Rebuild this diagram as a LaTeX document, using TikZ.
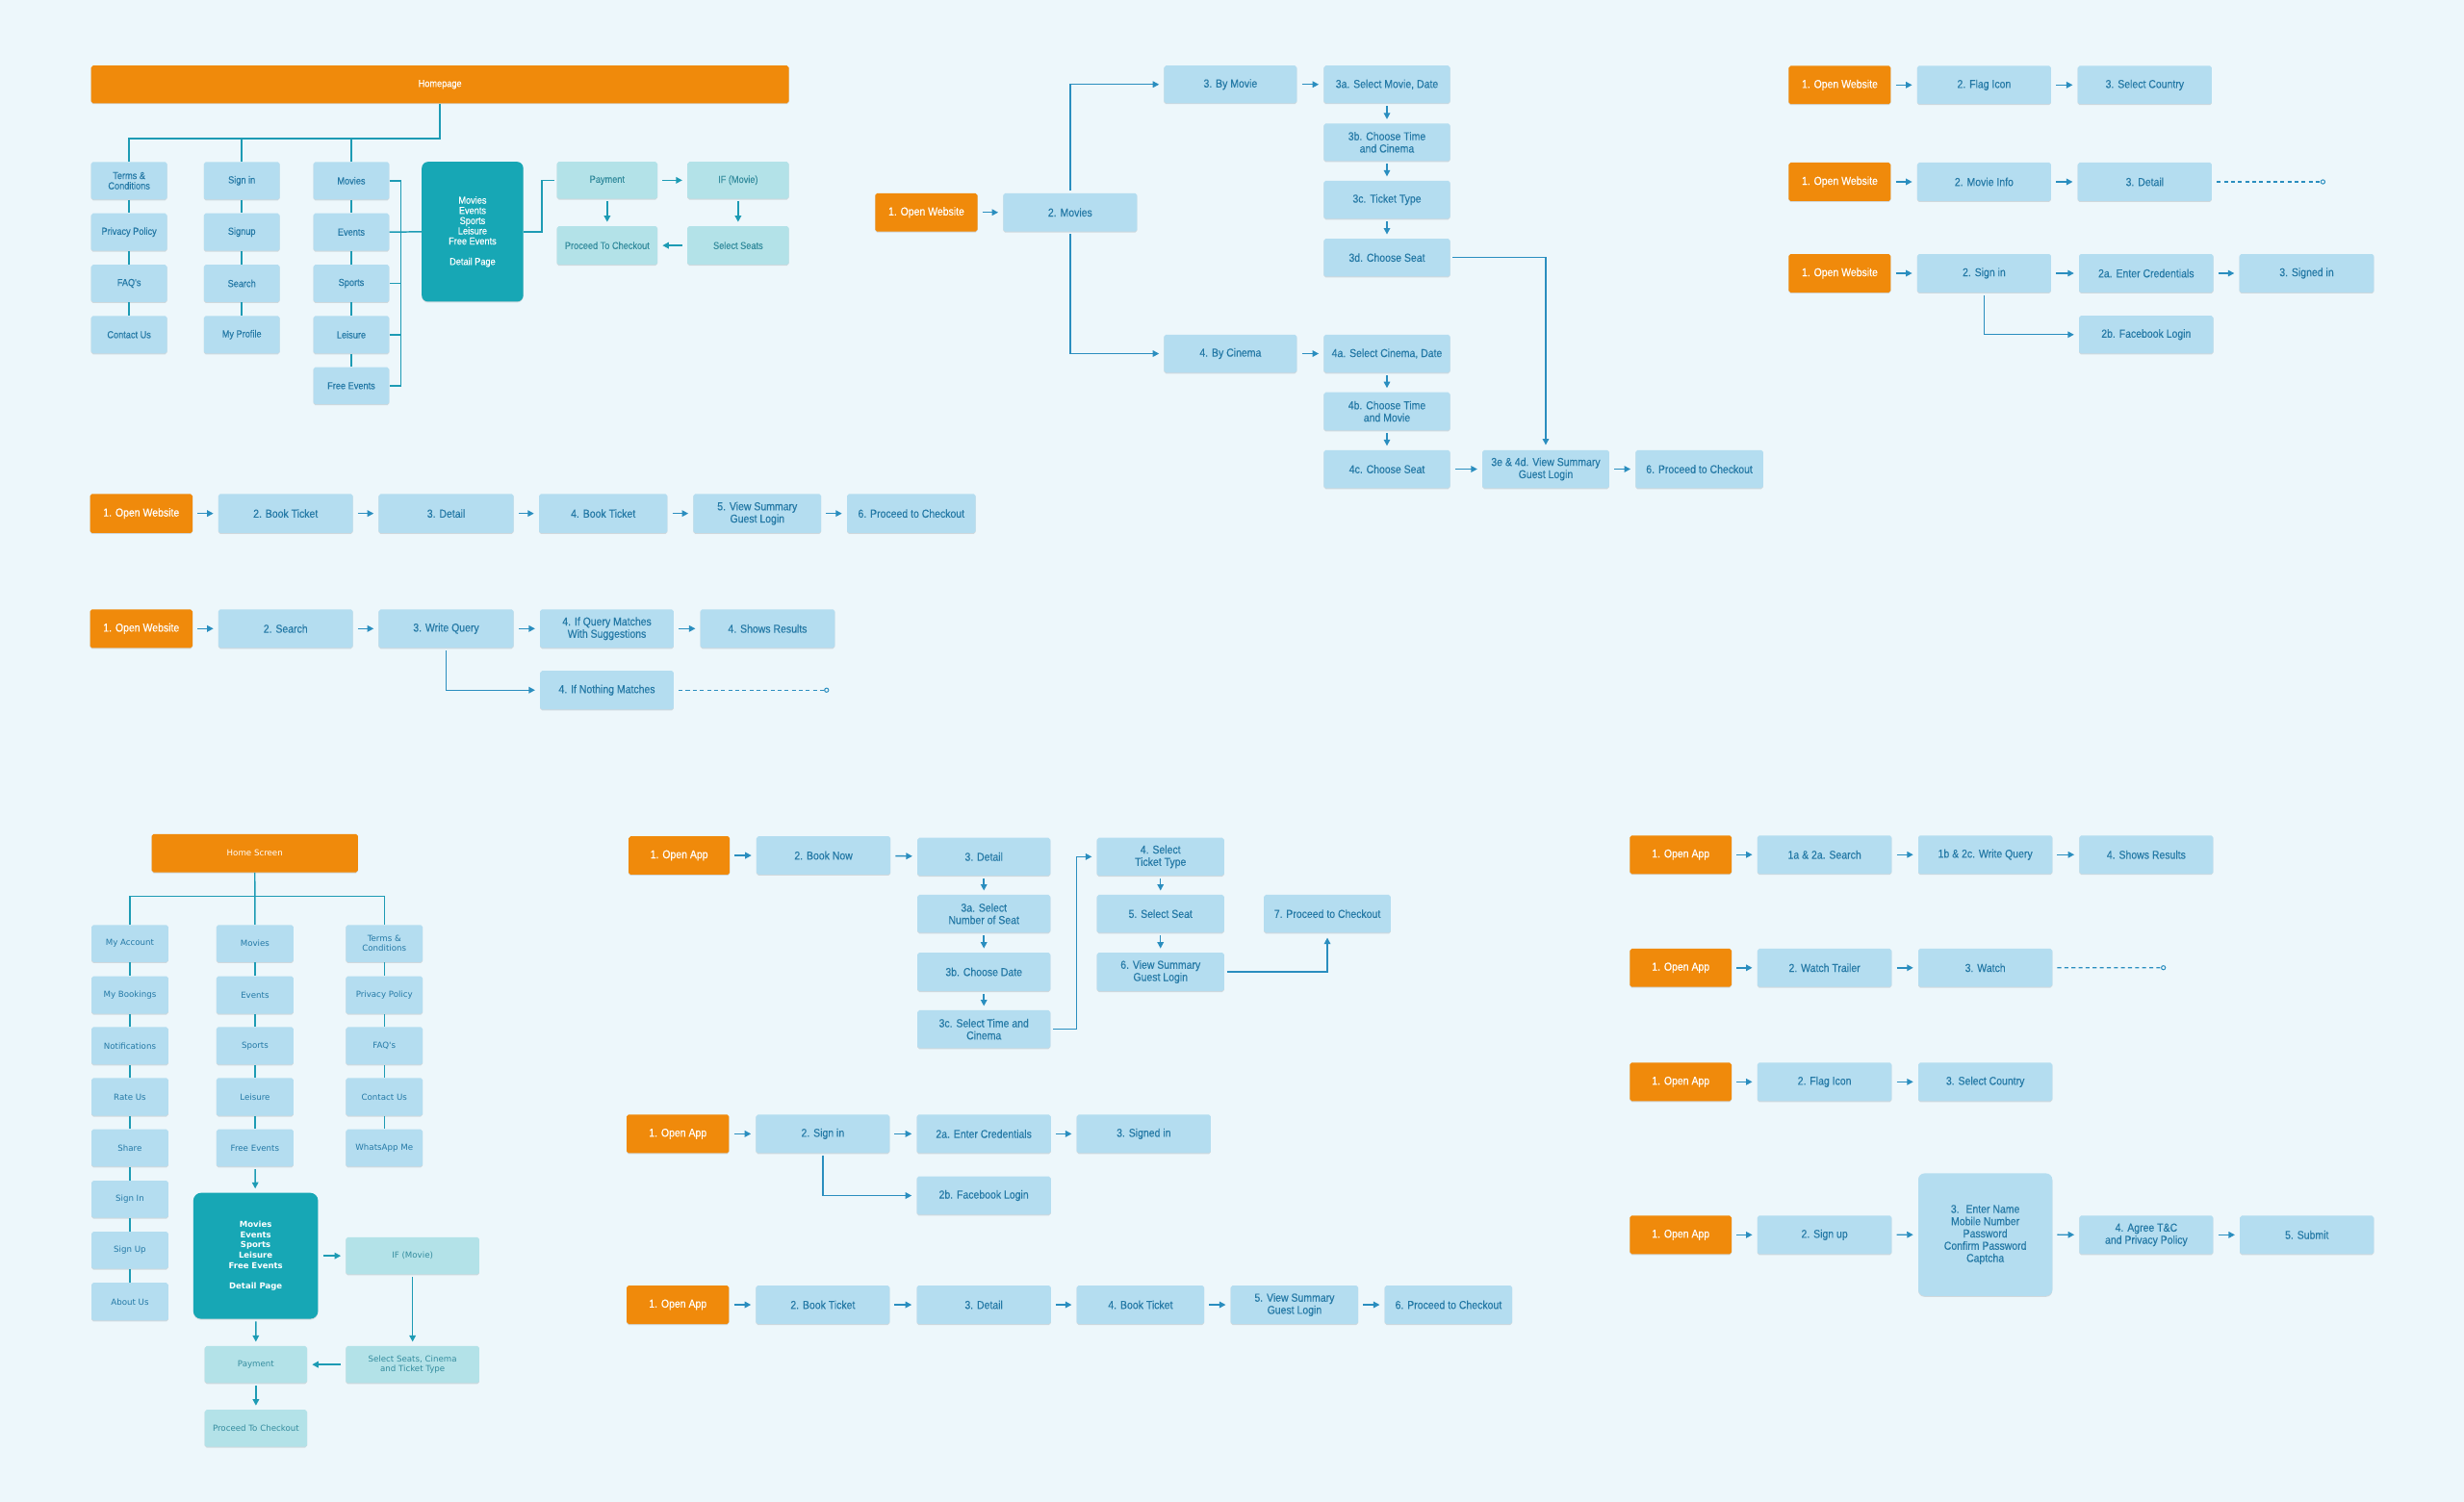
\documentclass[tikz,border=0pt]{standalone}
\usepackage{fontspec}
\setmainfont{Liberation Sans}
\newfontfamily\nar[FakeStretch=0.88,FakeBold=0.25]{Liberation Sans}
\newfontfamily\dvs{DejaVu Sans}
\usetikzlibrary{arrows.meta,shadows}
\definecolor{bgc}{HTML}{EDF7FB}
\definecolor{boxc}{HTML}{B4DDF0}
\definecolor{txtc}{HTML}{2479A6}
\definecolor{orng}{HTML}{F08A0B}
\definecolor{dkteal}{HTML}{17A7B5}
\definecolor{ltteal}{HTML}{B3E2E8}
\definecolor{lttxt}{HTML}{348C9E}
\definecolor{arrc}{HTML}{2A8EBF}
\definecolor{treec}{HTML}{1D9BB4}
\newcommand\fnA{\nar\fontsize{7.3}{7.8}\selectfont}
\newcommand\fnS{\nar\fontsize{6.4}{6.5}\selectfont}
\newcommand\fnD{\dvs\fontsize{5.3}{6.4}\selectfont}
\newcommand\fnDB{\dvs\bfseries\fontsize{5.2}{6.5}\selectfont}
\newcommand\mybox[7][bx]{%
  \node[#1, minimum width={(#4)-(#2)}, minimum height={(#5)-(#3)}] (#6) at ({((#2)+(#4))/2},{((#3)+(#5))/2}) {#7};}
\tikzset{
  bx/.style={rectangle, rounded corners=1.2pt, fill=boxc, text=txtc, inner sep=0pt, align=center, font=\fnA,
    drop shadow={shadow xshift=0pt, shadow yshift=-0.6pt, opacity=0.12, fill=black}},
  ob/.style={bx, fill=orng, text=white},
  bxs/.style={bx, font=\fnS},
  obs/.style={ob, font=\fnS},
  lts/.style={bx, fill=ltteal, text=lttxt, font=\fnS},
  dks/.style={bx, fill=dkteal, text=white, rounded corners=4pt, font=\fnS},
  bxd/.style={bx, font=\fnD},
  obd/.style={ob, font=\fnD},
  ltd/.style={bx, fill=ltteal, text=lttxt, font=\fnD},
  dkd/.style={bx, fill=dkteal, text=white, rounded corners=5pt, font=\fnDB},
  tallbox/.style={bx, rounded corners=4pt},
  arr/.style={draw=arrc, line width=0.9pt, -{Triangle[length=4pt,width=4pt]}, shorten >=3pt, shorten <=3pt},
  arrv/.style={arr, shorten >=2.5pt, shorten <=1.5pt},
  arrt/.style={arr, draw=treec},
  arrtv/.style={arrv, draw=treec},
  tree/.style={draw=treec, line width=0.9pt},
  dsh/.style={draw=arrc, line width=0.7pt, dash pattern=on 2.5pt off 2pt, shorten <=3pt},
  endc/.style={circle, draw=arrc, line width=0.6pt, inner sep=0pt, minimum size=2.6pt, fill=bgc},
}
\begin{document}
\begin{tikzpicture}[x=1pt,y=-1pt]
\fill[bgc] (0,0) rectangle (1568,956);
\useasboundingbox (0,0) rectangle (1568,956);

% ================= TOP LEFT: Homepage tree =================
\mybox[obs]{58}{41.8}{502}{65.7}{hp}{Homepage}
\mybox[bxs]{58}{103.1}{106.3}{127}{t1}{Terms \&\\Conditions}
\mybox[bxs]{58}{135.8}{106.3}{159.7}{t2}{Privacy Policy}
\mybox[bxs]{58}{168.5}{106.3}{192.3}{t3}{FAQ's}
\mybox[bxs]{58}{201.1}{106.3}{225}{t4}{Contact Us}
\mybox[bxs]{129.7}{103.1}{178}{127}{s1}{Sign in}
\mybox[bxs]{129.7}{135.8}{178}{159.7}{s2}{Signup}
\mybox[bxs]{129.7}{168.5}{178}{192.3}{s3}{Search}
\mybox[bxs]{129.7}{201.1}{178}{225}{s4}{My Profile}
\mybox[bxs]{199.4}{103.1}{247.7}{127}{m1}{Movies}
\mybox[bxs]{199.4}{135.8}{247.7}{159.7}{m2}{Events}
\mybox[bxs]{199.4}{168.5}{247.7}{192.3}{m3}{Sports}
\mybox[bxs]{199.4}{201.1}{247.7}{225}{m4}{Leisure}
\mybox[bxs]{199.4}{233.8}{247.7}{257.3}{m5}{Free Events}
\mybox[dks]{268.4}{103}{333}{192}{d1}{Movies\\Events\\Sports\\Leisure\\Free Events\\[6.5pt]Detail Page}
\mybox[lts]{354.4}{103}{418.4}{126.5}{p1}{Payment}
\mybox[lts]{437.4}{103}{502}{126.5}{p2}{IF (Movie)}
\mybox[lts]{354.4}{144}{418.4}{168.5}{p3}{Proceed To Checkout}
\mybox[lts]{437.4}{144}{502}{168.5}{p4}{Select Seats}
\coordinate (brk) at (255,0);

\draw[tree] (hp.south) -- ++(0,22.3) -| (t1.north);
\draw[tree] (s1.north) -- ++(0,-15.1);
\draw[tree] (m1.north) -- ++(0,-15.1);
\draw[tree] (t1) -- (t2) -- (t3) -- (t4);
\draw[tree] (s1) -- (s2) -- (s3) -- (s4);
\draw[tree] (m1) -- (m2) -- (m3) -- (m4) -- (m5);
\draw[tree] (m1.east) -- (m1.east -| brk) -- (m5.east -| brk) -- (m5.east);
\draw[tree] (m2.east) -- (d1.west);
\draw[tree] (m3.east) -- (m3.east -| brk);
\draw[tree] (m4.east) -- (m4.east -| brk);
\draw[tree, shorten >=1.5pt] (d1.east) -- ++(11.6,0) |- (p1.west);
\draw[arrt] (p1) -- (p2);
\draw[arrtv] (p2) -- (p4);
\draw[arrt] (p4) -- (p3);
\draw[arrtv] (p1) -- (p3);

% ================= TOP MIDDLE: movies flow =================
\mybox[ob]{557}{123}{622}{147.4}{ow1}{1. Open Website}
\mybox{638.4}{123}{723.6}{147.4}{mv}{2. Movies}
\mybox{740.8}{41.8}{825.2}{65.7}{bm}{3. By Movie}
\mybox{842.4}{41.8}{922.8}{65.7}{a3}{3a. Select Movie, Date}
\mybox{842.4}{78.6}{922.8}{102.5}{b3}{3b. Choose Time\\and Cinema}
\mybox{842.4}{115}{922.8}{139.2}{c3}{3c. Ticket Type}
\mybox{842.4}{151.9}{922.8}{176}{d3}{3d. Choose Seat}
\mybox{740.8}{213}{825.2}{237.2}{bc}{4. By Cinema}
\mybox{842.4}{213}{922.8}{237.2}{a4}{4a. Select Cinema, Date}
\mybox{842.4}{249.7}{922.8}{274}{b4}{4b. Choose Time\\and Movie}
\mybox{842.4}{286.5}{922.8}{310.7}{c4}{4c. Choose Seat}
\mybox{943.3}{286.5}{1024}{310.7}{sm}{3e \& 4d. View Summary\\Guest Login}
\mybox{1040.8}{286.5}{1122}{310.7}{pc}{6. Proceed to Checkout}

\draw[arr] (ow1) -- (mv);
\draw[arr, shorten <=1.5pt] (mv.north) |- (bm.west);
\draw[arr, shorten <=1.5pt] (mv.south) |- (bc.west);
\draw[arr] (bm) -- (a3);
\draw[arrv] (a3) -- (b3);
\draw[arrv] (b3) -- (c3);
\draw[arrv] (c3) -- (d3);
\draw[arr, shorten <=1.5pt] (d3.east) -| (sm.north);
\draw[arr] (bc) -- (a4);
\draw[arrv] (a4) -- (b4);
\draw[arrv] (b4) -- (c4);
\draw[arr] (c4) -- (sm);
\draw[arr] (sm) -- (pc);

% ================= TOP RIGHT =================
\mybox[ob]{1138.3}{41.9}{1203.2}{66.3}{r1a}{1. Open Website}
\mybox{1220}{41.9}{1305.2}{66.3}{r1b}{2. Flag Icon}
\mybox{1322.2}{41.9}{1407.5}{66.3}{r1c}{3. Select Country}
\mybox[ob]{1138.3}{103.5}{1203.2}{128}{r2a}{1. Open Website}
\mybox{1220}{103.5}{1305.2}{128}{r2b}{2. Movie Info}
\mybox{1322.2}{103.5}{1407.5}{128}{r2c}{3. Detail}
\node[endc] (r2e) at (1478.2,115.75) {};
\mybox[ob]{1138.3}{161.7}{1203.2}{186.2}{r3a}{1. Open Website}
\mybox{1220}{161.7}{1305.2}{186.2}{r3b}{2. Sign in}
\mybox{1323}{161.7}{1408.5}{186.2}{r3c}{2a. Enter Credentials}
\mybox{1425}{161.7}{1510.7}{186.2}{r3d}{3. Signed in}
\mybox{1323}{201}{1408.5}{225}{r3e}{2b. Facebook Login}

\draw[arr] (r1a) -- (r1b);
\draw[arr] (r1b) -- (r1c);
\draw[arr] (r2a) -- (r2b);
\draw[arr] (r2b) -- (r2c);
\draw[dsh] (r2c.east) -- (r2e);
\draw[arr] (r3a) -- (r3b);
\draw[arr] (r3b) -- (r3c);
\draw[arr] (r3c) -- (r3d);
\draw[arr, shorten <=1.5pt] (r3b.south) |- (r3e.west);

% ================= MIDDLE LEFT =================
\mybox[ob]{57.3}{314.4}{122.5}{339.3}{ma1}{1. Open Website}
\mybox{139}{314.4}{224.5}{339.3}{ma2}{2. Book Ticket}
\mybox{241}{314.4}{326.8}{339.3}{ma3}{3. Detail}
\mybox{343}{314.4}{424.7}{339.3}{ma4}{4. Book Ticket}
\mybox{441.2}{314.4}{522.6}{339.3}{ma5}{5. View Summary\\Guest Login}
\mybox{539}{314.4}{620.8}{339.3}{ma6}{6. Proceed to Checkout}
\draw[arr] (ma1) -- (ma2);
\draw[arr] (ma2) -- (ma3);
\draw[arr] (ma3) -- (ma4);
\draw[arr] (ma4) -- (ma5);
\draw[arr] (ma5) -- (ma6);

\mybox[ob]{57.3}{387.9}{122.5}{412.4}{mb1}{1. Open Website}
\mybox{139}{387.9}{224.5}{412.4}{mb2}{2. Search}
\mybox{241}{387.9}{326.8}{412.4}{mb3}{3. Write Query}
\mybox{343.7}{387.9}{428.7}{412.4}{mb4}{4. If Query Matches\\With Suggestions}
\mybox{445.7}{387.9}{531.2}{412.4}{mb5}{4. Shows Results}
\mybox{343.7}{427}{428.7}{451.6}{mb6}{4. If Nothing Matches}
\node[endc] (mbe) at (526,439.3) {};
\draw[arr] (mb1) -- (mb2);
\draw[arr] (mb2) -- (mb3);
\draw[arr] (mb3) -- (mb4);
\draw[arr] (mb4) -- (mb5);
\draw[arr, shorten <=1.5pt] (mb3.south) |- (mb6.west);
\draw[dsh] (mb6.east) -- (mbe);

% ================= BOTTOM LEFT: Home Screen tree =================
\mybox[obd]{96.6}{530.9}{227.7}{555.3}{hs}{Home Screen}
\mybox[bxd]{58.2}{588.8}{107.1}{612.4}{l1}{My Account}
\mybox[bxd]{58.2}{621.4}{107.1}{645.3}{l2}{My Bookings}
\mybox[bxd]{58.2}{653.8}{107.1}{677.7}{l3}{Notifications}
\mybox[bxd]{58.2}{686.2}{107.1}{710.2}{l4}{Rate Us}
\mybox[bxd]{58.2}{718.9}{107.1}{742.6}{l5}{Share}
\mybox[bxd]{58.2}{751.6}{107.1}{775.2}{l6}{Sign In}
\mybox[bxd]{58.2}{784}{107.1}{807.6}{l7}{Sign Up}
\mybox[bxd]{58.2}{816.6}{107.1}{840.6}{l8}{About Us}
\mybox[bxd]{137.7}{588.8}{186.8}{612.4}{k1}{Movies}
\mybox[bxd]{137.7}{621.4}{186.8}{645.3}{k2}{Events}
\mybox[bxd]{137.7}{653.8}{186.8}{677.7}{k3}{Sports}
\mybox[bxd]{137.7}{686.2}{186.8}{710.2}{k4}{Leisure}
\mybox[bxd]{137.7}{718.9}{186.8}{742.6}{k5}{Free Events}
\mybox[bxd]{220.1}{588.8}{269}{612.4}{n1}{Terms \&\\Conditions}
\mybox[bxd]{220.1}{621.4}{269}{645.3}{n2}{Privacy Policy}
\mybox[bxd]{220.1}{653.8}{269}{677.7}{n3}{FAQ's}
\mybox[bxd]{220.1}{686.2}{269}{710.2}{n4}{Contact Us}
\mybox[bxd]{220.1}{718.9}{269}{742.6}{n5}{WhatsApp Me}
\mybox[dkd]{123}{759.3}{202.4}{839.5}{dd}{Movies\\Events\\Sports\\Leisure\\Free Events\\[6.5pt]Detail Page}
\mybox[ltd]{220.1}{787.6}{305}{811.2}{ifm}{IF (Movie)}
\mybox[ltd]{220.1}{856.8}{305}{880.4}{sel}{Select Seats, Cinema\\and Ticket Type}
\mybox[ltd]{130.3}{856.8}{195.4}{880.4}{pay}{Payment}
\mybox[ltd]{130.3}{897.4}{195.4}{921}{pro}{Proceed To Checkout}

\draw[tree] (hs.south) -- (k1.north);
\draw[tree] (l1.north) -- ++(0,-18) -| (n1.north);
\draw[tree] (l1) -- (l2) -- (l3) -- (l4) -- (l5) -- (l6) -- (l7) -- (l8);
\draw[tree] (k1) -- (k2) -- (k3) -- (k4) -- (k5);
\draw[tree] (n1) -- (n2) -- (n3) -- (n4) -- (n5);
\draw[arrtv] (k5) -- (dd);
\draw[arrt] (dd.east |- ifm.west) -- (ifm.west);
\draw[arrtv] (ifm) -- (sel);
\draw[arrt] (sel) -- (pay);
\draw[arrtv] (dd) -- (pay);
\draw[arrtv] (pay) -- (pro);

% ================= BOTTOM MIDDLE =================
\mybox[ob]{400}{532.4}{464.4}{556.7}{c1}{1. Open App}
\mybox{481.4}{532.4}{566.7}{556.7}{c2}{2. Book Now}
\mybox{583.8}{533.3}{668.4}{557.4}{cd}{3. Detail}
\mybox{583.8}{569.6}{668.4}{593.7}{c3a}{3a. Select\\Number of Seat}
\mybox{583.8}{606.4}{668.4}{630.9}{c3b}{3b. Choose Date}
\mybox{583.8}{643.1}{668.4}{667.2}{c3c}{3c. Select Time and\\Cinema}
\mybox{698}{533.3}{779}{557.4}{c4}{4. Select\\Ticket Type}
\mybox{698}{569.6}{779}{593.7}{c5}{5. Select Seat}
\mybox{698}{606.4}{779}{630.9}{c6}{6. View Summary\\Guest Login}
\mybox{804.3}{569.6}{885}{593.7}{c7}{7. Proceed to Checkout}
\draw[arr] (c1) -- (c2);
\draw[arr] (c2) -- (cd);
\draw[arrv] (cd) -- (c3a);
\draw[arrv] (c3a) -- (c3b);
\draw[arrv] (c3b) -- (c3c);
\draw[arr, shorten <=1.5pt] (c3c.east) -- ++(16.4,0) |- (c4.west);
\draw[arrv] (c4) -- (c5);
\draw[arrv] (c5) -- (c6);
\draw[arr, shorten <=1.5pt] (c6.east) -| (c7.south);

\mybox[ob]{398.8}{709.5}{463.9}{734}{e1}{1. Open App}
\mybox{481.1}{709.5}{566.1}{734}{e2}{2. Sign in}
\mybox{583.4}{709.5}{668.7}{734}{e3}{2a. Enter Credentials}
\mybox{685.2}{709.5}{770.5}{734}{e4}{3. Signed in}
\mybox{583.4}{748.9}{668.7}{773.2}{e5}{2b. Facebook Login}
\draw[arr] (e1) -- (e2);
\draw[arr] (e2) -- (e3);
\draw[arr] (e3) -- (e4);
\draw[arr, shorten <=1.5pt] (e2.south) |- (e5.west);

\mybox[ob]{398.8}{818.3}{463.9}{842.8}{f1}{1. Open App}
\mybox{481.1}{818.3}{566.1}{842.8}{f2}{2. Book Ticket}
\mybox{583.4}{818.3}{668.7}{842.8}{f3}{3. Detail}
\mybox{685.2}{818.3}{766.3}{842.8}{f4}{4. Book Ticket}
\mybox{783.2}{818.3}{864.3}{842.8}{f5}{5. View Summary\\Guest Login}
\mybox{881.2}{818.3}{962.3}{842.8}{f6}{6. Proceed to Checkout}
\draw[arr] (f1) -- (f2);
\draw[arr] (f2) -- (f3);
\draw[arr] (f3) -- (f4);
\draw[arr] (f4) -- (f5);
\draw[arr] (f5) -- (f6);

% ================= BOTTOM RIGHT =================
\mybox[ob]{1037.2}{531.8}{1101.9}{556.3}{g1}{1. Open App}
\mybox{1118.3}{531.8}{1203.8}{556.3}{g2}{1a \& 2a. Search}
\mybox{1220.7}{531.8}{1306}{556.3}{g3}{1b \& 2c. Write Query}
\mybox{1323.2}{531.8}{1408.4}{556.3}{g4}{4. Shows Results}
\draw[arr] (g1) -- (g2);
\draw[arr] (g2) -- (g3);
\draw[arr] (g3) -- (g4);

\mybox[ob]{1037.2}{603.9}{1101.9}{628.2}{h1}{1. Open App}
\mybox{1118.3}{603.9}{1203.8}{628.2}{h2}{2. Watch Trailer}
\mybox{1220.7}{603.9}{1306}{628.2}{h3}{3. Watch}
\node[endc] (he) at (1376.7,616) {};
\draw[arr] (h1) -- (h2);
\draw[arr] (h2) -- (h3);
\draw[dsh] (h3.east) -- (he);

\mybox[ob]{1037.2}{676.4}{1101.9}{700.9}{i1}{1. Open App}
\mybox{1118.3}{676.4}{1203.8}{700.9}{i2}{2. Flag Icon}
\mybox{1220.7}{676.4}{1306}{700.9}{i3}{3. Select Country}
\draw[arr] (i1) -- (i2);
\draw[arr] (i2) -- (i3);

\mybox[ob]{1037.2}{773.8}{1101.9}{798.3}{j1}{1. Open App}
\mybox{1118.3}{773.8}{1203.8}{798.3}{j2}{2. Sign up}
\mybox[tallbox]{1220.7}{746.9}{1306}{824.9}{j3}{3.~ Enter Name\\Mobile Number\\Password\\Confirm Password\\Captcha}
\mybox{1323.2}{773.8}{1408.4}{798.3}{j4}{4. Agree T\&C\\and Privacy Policy}
\mybox{1425.4}{773.8}{1510.6}{798.3}{j5}{5. Submit}
\draw[arr] (j1) -- (j2);
\draw[arr] (j2) -- (j3);
\draw[arr] (j3) -- (j4);
\draw[arr] (j4) -- (j5);
\end{tikzpicture}
\end{document}
